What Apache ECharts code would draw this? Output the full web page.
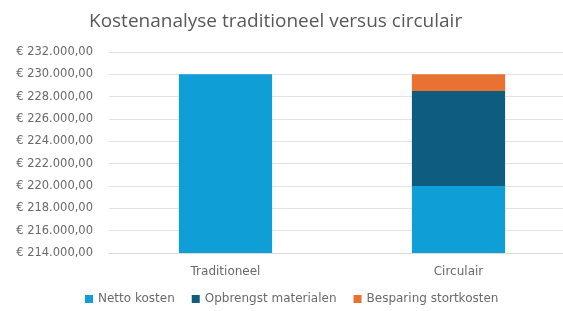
<!DOCTYPE html>
<html>
<head>
<meta charset="utf-8">
<script src="https://cdn.jsdelivr.net/npm/echarts@6/dist/echarts.min.js"></script>
<style>
  html, body { margin: 0; padding: 0; background: #fff; overflow: hidden; }
  #chart { width: 580px; height: 311px; }
</style>
</head>
<body>
<div id="chart"></div>
<script>
const categories = ['Traditioneel', 'Circulair']
const nettoKosten = [230000, 220000]
const opbrengstMaterialen = [0, 8500]
const besparingStortkosten = [0, 1500]

const fmt = v => '€ ' + v.toLocaleString('nl-NL', { minimumFractionDigits: 2, maximumFractionDigits: 2 })

// chart is a bit wider than the window so the plot runs past the right edge like the original
const chart = echarts.init(document.getElementById('chart'))
const titleFont = 'Open Sans, Noto Sans, sans-serif'
const font = 'DejaVu Sans, sans-serif'

chart.setOption({
  animation: false,
  title: {
    text: 'Kostenanalyse traditioneel versus circulair',
    left: 84,
    top: 7,
    textStyle: { color: '#595959', fontSize: 19, fontWeight: 'normal', fontFamily: titleFont }
  },
  legend: {
    bottom: 1,
    left: 80,
    icon: 'rect',
    itemWidth: 8,
    itemHeight: 8,
    itemGap: 17,
    textStyle: { color: '#6a6a6a', fontSize: 12, fontFamily: font },
    data: ['Netto kosten', 'Opbrengst materialen', 'Besparing stortkosten']
  },
  grid: { left: 109, right: 5, top: 52, bottom: 58 },
  xAxis: {
    type: 'category',
    data: categories,
    axisTick: { show: false },
    axisLine: { lineStyle: { color: '#d9d9d9' } },
    axisLabel: { color: '#6a6a6a', fontSize: 12, fontFamily: font, margin: 13 }
  },
  yAxis: {
    type: 'value',
    min: 214000,
    max: 232000,
    interval: 2000,
    axisLabel: { color: '#6a6a6a', fontSize: 11.5, fontFamily: font, formatter: fmt, margin: 16 },
    splitLine: { lineStyle: { color: '#e3e3e3' } }
  },
  series: [
    { name: 'Netto kosten', type: 'bar', stack: 'k', barWidth: '40%', data: nettoKosten, itemStyle: { color: '#0F9ED5' } },
    { name: 'Opbrengst materialen', type: 'bar', stack: 'k', data: opbrengstMaterialen, itemStyle: { color: '#0E5C80' } },
    { name: 'Besparing stortkosten', type: 'bar', stack: 'k', data: besparingStortkosten, itemStyle: { color: '#E97132' } }
  ]
})
</script>
</body>
</html>
